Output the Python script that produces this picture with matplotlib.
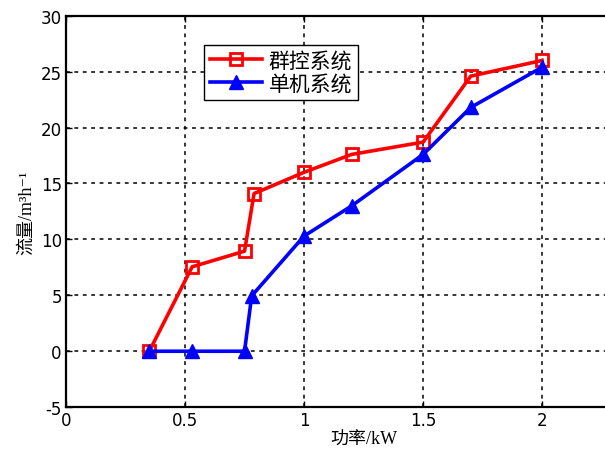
import matplotlib
matplotlib.use("Agg")
import matplotlib.pyplot as plt

plt.rcParams['font.family'] = ['Liberation Serif', 'Noto Sans CJK SC', 'DejaVu Serif']

# power (kW) vs flow (m3/h)
x_group = [0.35, 0.53, 0.75, 0.79, 1.0, 1.2, 1.5, 1.7, 2.0]
y_group = [0.0, 7.55, 8.95, 14.1, 16.0, 17.6, 18.7, 24.6, 26.0]
x_single = [0.35, 0.53, 0.75, 0.78, 1.0, 1.2, 1.5, 1.7, 2.0]
y_single = [0.0, 0.0, 0.0, 4.95, 10.3, 13.0, 17.6, 21.8, 25.4]
xticks = [0, 0.5, 1, 1.5, 2]
yticks = [-5, 0, 5, 10, 15, 20, 25, 30]

fig = plt.figure(figsize=(6.05, 4.52), dpi=100)
# axes runs past the right edge (reference image is cropped)
ax = fig.add_axes([0.109, 0.097, 0.984, 0.866])

ax.plot(x_group, y_group, color='red', lw=2.6, marker='s', ms=8,
        mfc='none', mec='red', mew=2, label='群控系统')
ax.plot(x_single, y_single, color='blue', lw=2.6, marker='^', ms=10,
        mfc='blue', mec='blue', label='单机系统')

ax.set_xlim(0, 2.5)
ax.set_ylim(-5, 30)
ax.set_xticks(xticks)
ax.set_xticklabels(['0', '0.5', '1', '1.5', '2'], family='DejaVu Sans', fontsize=12)
ax.set_yticks(yticks)
ax.set_yticklabels([str(v) for v in yticks], family='DejaVu Sans', fontsize=12)
ax.tick_params(direction='in', length=4, width=1, pad=3, top=True, right=True)
ax.grid(True, color='black', ls=(0, (2.5, 3)), lw=1.1)
for s in ax.spines.values():
    s.set_linewidth(1.6)

ax.set_xlabel('功率/kW', fontsize=13, labelpad=1)
ax.set_ylabel('流量/m³h⁻¹', fontsize=13, labelpad=4)

leg = ax.legend(loc='upper left', bbox_to_anchor=(0.232, 0.925), fontsize=15,
                fancybox=False, framealpha=1, edgecolor='black',
                handlelength=2.5, borderpad=0.3, labelspacing=0.15,
                handletextpad=0.3, borderaxespad=0)
leg.get_frame().set_linewidth(1)

plt.savefig('out.png', dpi=100)
